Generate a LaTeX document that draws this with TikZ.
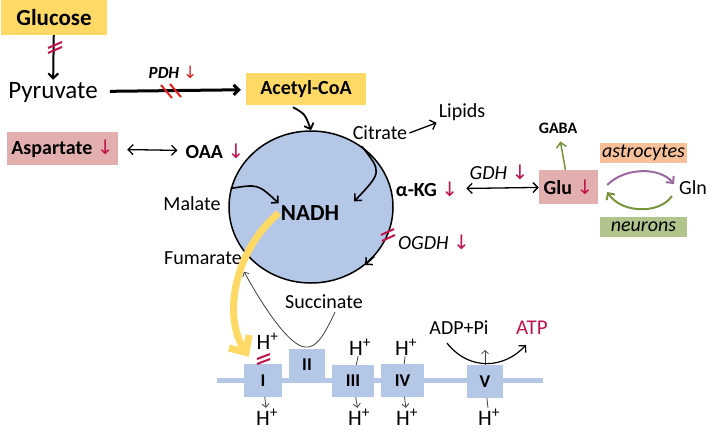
\documentclass[tikz,border=0pt]{standalone}
\usepackage{fontspec}
\setmainfont{Carlito}
\newfontfamily\arrfont{DejaVu Sans}
\usetikzlibrary{arrows.meta,shapes.geometric,calc}

\definecolor{ygold}{HTML}{FFD966}
\definecolor{pinkbx}{HTML}{E3AFAE}
\definecolor{orangebx}{HTML}{F7C099}
\definecolor{greenbx}{HTML}{B0C48C}
\definecolor{tcablue}{HTML}{B4C7E7}
\definecolor{crim}{HTML}{C0144C}
\definecolor{pdhred}{HTML}{E0201A}
\definecolor{olive}{HTML}{77933C}
\definecolor{plum}{HTML}{9A67A0}
\definecolor{thingray}{HTML}{404040}

\newcommand{\dn}[1][crim]{{\normalfont\arrfont\color{#1}↓}}

\tikzset{
  txt/.style={font=\fontsize{20}{24}\selectfont, inner sep=2pt},
  bld/.style={font=\bfseries\fontsize{20}{24}\selectfont, inner sep=2pt},
  enz/.style={font=\itshape\fontsize{20}{24}\selectfont, inner sep=2pt},
  ybox/.style={bld, fill=ygold, inner sep=0pt},
  pbox/.style={bld, fill=pinkbx, inner sep=0pt},
  tca/.style={ellipse, draw=black, fill=tcablue, line width=1.5pt,
    minimum width=164, minimum height=152},
  cplx/.style={fill=tcablue, inner sep=0pt, font=\bfseries\fontsize{18}{20}\selectfont},
  hp/.style={font=\fontsize{22}{24}\selectfont, inner sep=1pt},
  membr/.style={tcablue, line width=5pt},
  barb/.style={arrows={-Straight Barb[length=5pt,width=10pt]}},
  dbl/.style={arrows={Straight Barb[length=5pt,width=10pt]-Straight Barb[length=5pt,width=10pt]}, line width=1.3pt},
  tiny/.style={thingray, line width=0.8pt, arrows={-Straight Barb[length=3.5pt,width=7pt]}},
  hatchm/.style={line width=2pt},
}

\begin{document}
\begin{tikzpicture}[x=1pt, y=-1pt]
\useasboundingbox (0,0) rectangle (709,431);

% glycolysis
\node[ybox, font=\bfseries\fontsize{23}{26}\selectfont, minimum width=106, minimum height=35] (glc) at (54,17.5) {Glucose};
\node[txt, font=\fontsize{25}{28}\selectfont] (pyr) at (53,92) {Pyruvate};
\node[ybox, minimum width=120, minimum height=32] (acoa) at (306,89) {Acetyl-CoA};
\node[enz, font=\bfseries\itshape\fontsize{17}{20}\selectfont] (pdh) at (173,72) {PDH \dn[pdhred]};

\node[pbox, minimum width=111, minimum height=33] (asp) at (62.5,148.5) {Aspartate \dn};
\node[bld] (oaa) at (215,151) {OAA \dn};

% TCA cycle
\node[tca] (cyc) at (311,207) {};
\node[bld, font=\bfseries\fontsize{23}{26}\selectfont] (nadh) at (310,213) {NADH};
\node[txt] (cit) at (380,133) {Citrate};
\node[txt] (lip) at (462,112) {Lipids};
\node[txt] (mal) at (192,204) {Malate};
\node[txt] (fum) at (203,258) {Fumarate};
\node[txt] (succ) at (324,302) {Succinate};
\node[bld] (akg) at (427,189) {α-KG \dn};
\node[enz] (ogdh) at (434,242) {OGDH \dn};

% glutamate
\node[enz] (gdh) at (499,172) {GDH \dn};
\node[pbox, minimum width=59, minimum height=34] (glu) at (568.5,187) {Glu \dn};
\node[bld, font=\bfseries\fontsize{16}{19}\selectfont] (gaba) at (558,128) {GABA};
\node[txt] (gln) at (693,188) {Gln};
\node[enz, fill=orangebx, minimum width=87, minimum height=20, inner sep=0pt] (astro) at (643.5,153) {astrocytes};
\node[enz, fill=greenbx, minimum width=87, minimum height=20, inner sep=0pt] (neur) at (643.5,227) {neurons};

% respiratory chain
\coordinate (mleft) at (217,380);
\coordinate (mright) at (543,380);
\draw[membr] (mleft) -- (mright);
\node[cplx, minimum width=38, minimum height=33] (cI) at (263,380.5) {I};
\node[cplx, minimum width=36, minimum height=32] (cII) at (307,365) {II};
\node[cplx, minimum width=42, minimum height=32] (cIII) at (353,381) {III};
\node[cplx, minimum width=43, minimum height=33] (cIV) at (402.5,380.5) {IV};
\node[cplx, minimum width=36, minimum height=33] (cV) at (485,381.5) {V};

\node[hp] (h1a) at (267.5,341) {H\textsuperscript{+}};
\node[hp] (h1b) at (267,417) {H\textsuperscript{+}};
\node[hp] (h3a) at (360,347) {H\textsuperscript{+}};
\node[hp] (h3b) at (359,417) {H\textsuperscript{+}};
\node[hp] (h4a) at (406,347) {H\textsuperscript{+}};
\node[hp] (h4b) at (407,417) {H\textsuperscript{+}};
\node[hp] (h5b) at (489,417) {H\textsuperscript{+}};
\node[txt] (adp) at (459,328) {ADP+Pi};
\node[txt, text=crim, font=\fontsize{21}{24}\selectfont] (atp) at (532,328) {ATP};

% arrows
\draw[barb, line width=2pt] (glc) -- (pyr);
\draw[barb, line width=3pt, shorten <=10pt, shorten >=5pt] (pyr) -- (acoa);
\draw[barb, line width=1.8pt] ($(acoa.south)+(-13,2)$) .. controls (305,114) .. (cyc.north);
\draw[dbl, shorten <=9pt, shorten >=6pt] (asp) -- (oaa);
\draw[barb, line width=1.3pt] (cit.east) -- (lip.south west);
\draw[barb, line width=1.6pt] (cyc.50) .. controls (382,172) .. ($(nadh.north east)+(13,-2)$);
\draw[barb, line width=1.6pt] (cyc.167) .. controls (258,184) .. (nadh.north west);
\draw[barb, line width=1.5pt] (cyc.-38) -- (cyc.-47);
\draw[dbl, shorten <=6pt] (akg) -- (glu);
\draw[olive, line width=1.5pt, arrows={-Straight Barb[length=5pt,width=10pt]}, shorten >=6pt] (glu) -- (gaba);
\draw[plum, line width=2pt, arrows={-Straight Barb[length=5pt,width=10pt]}] ($(glu.east)+(9,-2)$) .. controls (625,167) and (660,167) .. ($(gln.west)+(-3,-4)$);
\draw[olive, line width=2pt, arrows={-Straight Barb[length=5pt,width=10pt]}] ($(gln.west)+(-5,8)$) .. controls (660,214) and (622,214) .. ($(glu.east)+(9,5)$);

% NADH to complex I
\draw[ygold, line width=7pt, arrows={-Straight Barb[length=13pt,width=24pt]}] (nadh.west) .. controls (235,250) and (222,315) .. ($(cI.north west)+(5,-7)$);
\draw[tiny] ($(succ.south)+(11,1)$) .. controls (322,340) and (315,348) .. (305,347) .. controls (290,346) and (265,310) .. ($(fum.south east)+(0,5)$);

\draw[tiny] (cI) -- (h1b);
\draw[thingray, line width=0.8pt] (h3a) -- (cIII);
\draw[tiny] (cIII) -- (h3b);
\draw[thingray, line width=0.8pt] (h4a) -- (cIV);
\draw[tiny] (cIV) -- (h4b);
\draw[thingray, line width=0.8pt] (h5b) -- (cV);
\draw[tiny] (cV.north) -- ++(0,-15);
\draw[barb, line width=1.2pt] ($(adp.south)+(-12,6)$) .. controls (470,372) and (505,368) .. ($(atp.south west)+(12,8)$);

% blocks
\draw[hatchm, crim] (48,48) -- (62,42) (48,53) -- (62,47);
\draw[hatchm, pdhred] (161,85) -- (172,98) (170,84) -- (181,97);
\draw[hatchm, crim] (381,235) -- (394,229) (382,241) -- (395,235);
\draw[hatchm, crim] (257,359) -- (270,354) (257,364) -- (270,359);
\end{tikzpicture}
\end{document}
